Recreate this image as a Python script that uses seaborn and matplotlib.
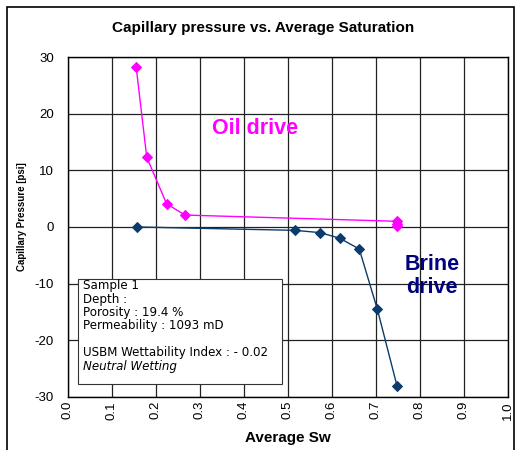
import matplotlib
matplotlib.use("Agg")
import matplotlib.pyplot as plt
from matplotlib.patches import Rectangle
import pandas as pd
import seaborn as sns

# oil drive and brine drive points
oil_sw = [0.155, 0.179, 0.224, 0.266, 0.748, 0.748, 0.748]
oil_pc = [28.2, 12.3, 4.1, 2.1, 1.0, 0.5, 0.1]
brine_sw = [0.156, 0.516, 0.573, 0.618, 0.662, 0.703, 0.748]
brine_pc = [0.0, -0.6, -1.0, -2.0, -3.9, -14.5, -28.1]
x_ticks = [0.0, 0.1, 0.2, 0.3, 0.4, 0.5, 0.6, 0.7, 0.8, 0.9, 1.0]
y_ticks = [-30, -20, -10, 0, 10, 20, 30]

info_lines = ["Sample 1", "Depth :", "Porosity : 19.4 %", "Permeability : 1093 mD",
              "", "USBM Wettability Index : - 0.02"]

sns.set_style("white")
plt.rcParams['font.family'] = ['Liberation Sans', 'DejaVu Sans']
plt.rcParams['text.color'] = 'black'
plt.rcParams['axes.labelcolor'] = 'black'
plt.rcParams['xtick.color'] = 'black'
plt.rcParams['ytick.color'] = 'black'

df_oil = pd.DataFrame({'Sw': oil_sw, 'Pc': oil_pc})
df_brine = pd.DataFrame({'Sw': brine_sw, 'Pc': brine_pc})

fig = plt.figure(figsize=(5.21, 4.5), dpi=100)
ax = fig.add_axes([0.1305, 0.118, 0.8445, 0.7553])

sns.lineplot(data=df_oil, x='Sw', y='Pc', ax=ax, color='#FF00FF', marker='D',
             markersize=5, markeredgecolor='#FF00FF', linewidth=1, sort=False,
             estimator=None, zorder=3)
sns.lineplot(data=df_brine, x='Sw', y='Pc', ax=ax, color='#0B3C6B', marker='D',
             markersize=5, markeredgecolor='#0B3C6B', linewidth=1, sort=False,
             estimator=None, zorder=3)

ax.set_xlim(0, 1)
ax.set_ylim(-30, 30)
ax.set_xticks(x_ticks)
ax.set_yticks(y_ticks)
ax.set_xticklabels([f"{v:.1f}" for v in x_ticks], rotation=90, fontsize=9.5)
ax.set_yticklabels([str(v) for v in y_ticks], fontsize=9.5)
ax.grid(True, color='#222222', linewidth=0.9)
ax.set_axisbelow(True)
ax.tick_params(axis='x', direction='out', length=3, width=0.8, color='black', pad=0)
ax.tick_params(axis='y', direction='out', length=6, width=0.8, color='black', pad=4)
for s in ax.spines.values():
    s.set_color('black')
    s.set_linewidth(1)

ax.set_xlabel('Average Sw', fontsize=11, fontweight='bold', labelpad=8)
ax.set_ylabel('Capillary Pressure [psi]', fontsize=7.0, fontweight='bold')
ax.yaxis.set_label_coords(-0.093, 0.53)
fig.text(0.505, 0.938, 'Capillary pressure vs. Average Saturation', ha='center',
         va='center', fontsize=11, fontweight='bold')

ax.text(0.425, 17.3, 'Oil drive', color='#FF00FF', fontsize=15.5, fontweight='bold',
        ha='center', va='center')
ax.text(0.827, -8.7, 'Brine\ndrive', color='#000080', fontsize=15.5, fontweight='bold',
        ha='center', va='center', linespacing=1.15)

# info box
box = Rectangle((0.022, -27.8), 0.465, 18.6, facecolor='white', edgecolor='#333333',
                linewidth=0.8, zorder=4)
ax.add_patch(box)
line_step = 2.35
for i, line in enumerate(info_lines):
    ax.text(0.033, -10.4 - i * line_step, line, fontsize=8.6, va='center', ha='left',
            family=['DejaVu Sans'], zorder=5)
ax.text(0.033, -24.7, 'Neutral Wetting', fontsize=8.6, va='center', ha='left',
        style='italic', family=['DejaVu Sans'], zorder=5)

# outer frame of the chart area
fig.patches.append(Rectangle((7 / 521, -0.05), 507 / 521, 1.034, transform=fig.transFigure,
                             fill=False, edgecolor='black', linewidth=1.2))

fig.savefig('out.png', dpi=100)
